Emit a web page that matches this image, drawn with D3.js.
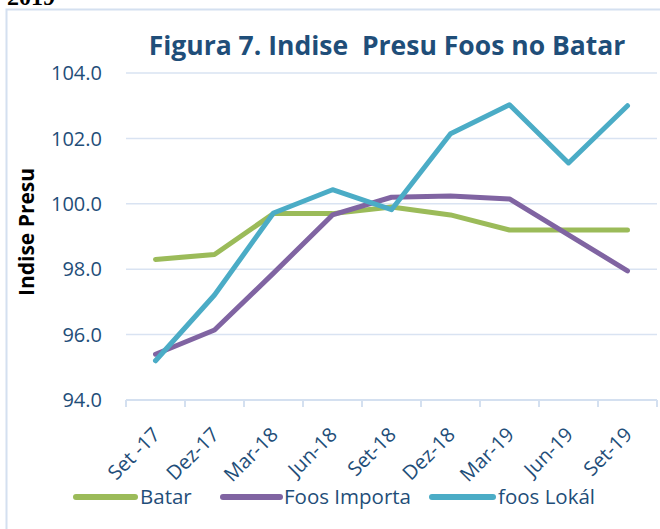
<!DOCTYPE html>
<meta charset="utf-8">
<style>
body { margin: 0; background: #fff; }
svg { font-family: "Open Sans", sans-serif; }
.grid line { stroke: #d9e3f2; stroke-width: 1.5px; }
.line { fill: none; stroke-width: 5px; stroke-linejoin: round; stroke-linecap: round; }
</style>
<body>
<script src="https://cdn.jsdelivr.net/npm/d3@7"></script>
<script>

// data
var categories = ["Set -17", "Dez-17", "Mar-18", "Jun-18", "Set-18", "Dez-18", "Mar-19", "Jun-19", "Set-19"];
var batar = [98.3, 98.45, 99.7, 99.7, 99.9, 99.66, 99.2, 99.2, 99.2];
var foosImporta = [95.4, 96.14, 97.88, 99.66, 100.2, 100.24, 100.15, 99.05, 97.95];
var foosLokal = [95.2, 97.21, 99.72, 100.43, 99.82, 102.14, 103.03, 101.25, 103.0];
var yTicks = [94, 96, 98, 100, 102, 104];
var seriesNames = ["Batar", "Foos Importa", "foos Lokál"];
var colors = ["#9bbb59", "#8064a2", "#4bacc6"];

var series = [batar, foosImporta, foosLokal];

var W = 660, H = 529;
var plotLeft = 126, plotRight = 657, plotTop = 73, plotBottom = 400;

var svg = d3.select("body").append("svg")
  .attr("width", W)
  .attr("height", H);

// clipped heading from the page above
svg.append("text")
  .attr("x", 7).attr("y", 5)
  .style("font-family", "Liberation Serif, serif")
  .style("font-weight", "bold")
  .style("font-size", "24px")
  .attr("fill", "#000")
  .text("2019");

// chart border
svg.append("path")
  .attr("d", "M6.5," + H + "V9.5H" + W)
  .attr("fill", "none")
  .attr("stroke", "#d4e0f0")
  .attr("stroke-width", 2);

// scales
var x = d3.scaleBand().domain(categories).range([plotLeft, plotRight]);
var y = d3.scaleLinear().domain([94, 104]).range([plotBottom, plotTop]);

// gridlines
svg.append("g").attr("class", "grid")
  .selectAll("line").data(yTicks.slice(1)).enter().append("line")
  .attr("x1", plotLeft).attr("x2", plotRight)
  .attr("y1", function(d) { return y(d); })
  .attr("y2", function(d) { return y(d); });

// y labels
svg.append("g").selectAll("text").data(yTicks).enter().append("text")
  .attr("x", 102)
  .attr("y", function(d) { return y(d); })
  .attr("dy", "0.36em")
  .attr("text-anchor", "end")
  .attr("fill", "#1f4e79")
  .style("font-size", "20px")
  .text(function(d) { return d.toFixed(1); });

// x axis
var xAxis = svg.append("g");
xAxis.append("line")
  .attr("x1", plotLeft).attr("x2", plotRight)
  .attr("y1", plotBottom).attr("y2", plotBottom)
  .attr("stroke", "#d4e0f0").attr("stroke-width", 2);
var bounds = categories.map(function(c) { return x(c); }).concat([plotRight]);
xAxis.selectAll(".tk").data(bounds).enter().append("line")
  .attr("x1", function(d) { return d; }).attr("x2", function(d) { return d; })
  .attr("y1", plotBottom).attr("y2", plotBottom + 7)
  .attr("stroke", "#d4e0f0").attr("stroke-width", 2);

xAxis.selectAll("text").data(categories).enter().append("text")
  .attr("transform", function(d) {
    return "translate(" + (x(d) + x.bandwidth() / 2 - 4) + "," + (plotBottom + 26) + ") rotate(-45)";
  })
  .attr("text-anchor", "end")
  .attr("dy", "0.7em")
  .attr("fill", "#1f4e79")
  .style("font-size", "20px")
  .text(function(d) { return d; });

// lines
var valueline = d3.line()
  .x(function(d, i) { return x(categories[i]) + x.bandwidth() / 2; })
  .y(function(d) { return y(d); });

svg.selectAll(".line").data(series).enter().append("path")
  .attr("class", "line")
  .attr("stroke", function(d, i) { return colors[i]; })
  .attr("d", valueline);

// title
var title = svg.append("text")
  .attr("x", 387).attr("y", 55)
  .attr("text-anchor", "middle")
  .attr("fill", "#1f4e79")
  .style("font-weight", "bold")
  .style("font-size", "25px")
  .style("white-space", "pre")
  .text("Figura 7. Indise  Presu Foos no Batar");
var tw = title.node().getComputedTextLength();
title.style("font-size", (25 * 477 / tw) + "px");

// y axis title
svg.append("text")
  .attr("transform", "translate(34,232) rotate(-90)")
  .attr("text-anchor", "middle")
  .attr("fill", "#000")
  .style("font-weight", "bold")
  .style("font-size", "21px")
  .text("Indise Presu");

// legend
var legX = [[76, 135, 140], [223, 280, 284], [432, 493, 498]];
var leg = svg.append("g").selectAll("g").data(seriesNames).enter().append("g");
leg.append("line")
  .attr("x1", function(d, i) { return legX[i][0]; })
  .attr("x2", function(d, i) { return legX[i][1]; })
  .attr("y1", 497).attr("y2", 497)
  .attr("stroke", function(d, i) { return colors[i]; })
  .attr("stroke-width", 6)
  .attr("stroke-linecap", "round");
leg.append("text")
  .attr("x", function(d, i) { return legX[i][2]; })
  .attr("y", 497)
  .attr("dy", "0.36em")
  .attr("fill", "#1f4e79")
  .style("font-size", "20.5px")
  .text(function(d) { return d; });

</script>
</body>
